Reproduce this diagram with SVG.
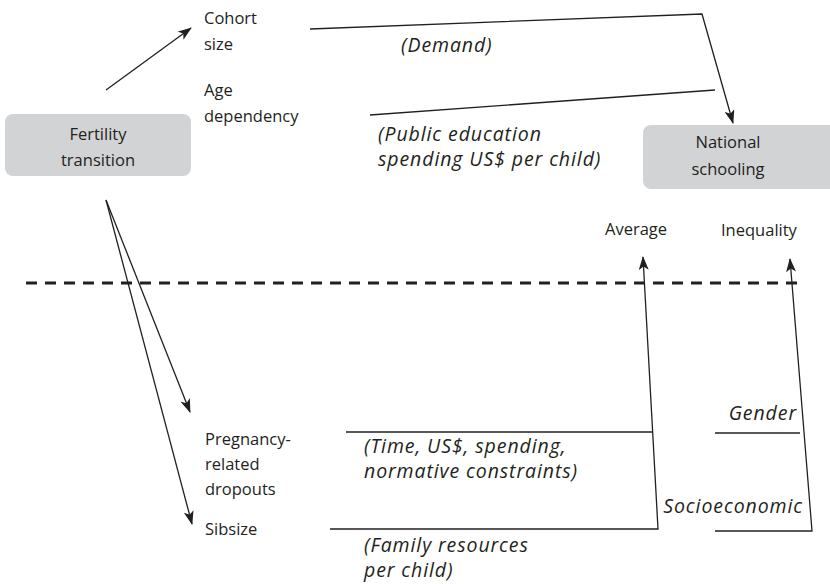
<svg xmlns="http://www.w3.org/2000/svg" width="830" height="584" viewBox="0 0 830 584">
<style>
.t{font-family:"Open Sans","Noto Sans","Liberation Sans",sans-serif;font-size:16.5px;fill:#231f20}
.i{font-family:"Open Sans","Noto Sans","Liberation Sans",sans-serif;font-size:19.5px;letter-spacing:0.9px;font-style:italic;fill:#231f20}
.box{fill:#d1d3d4}
.c{stroke:#231f20;stroke-width:1.3;fill:none}
.a{marker-end:url(#ah)}
</style>
<defs>
<marker id="ah" markerWidth="14" markerHeight="10" refX="13" refY="5" orient="auto" markerUnits="userSpaceOnUse">
<path d="M0,0 L14,5 L0,10 L3.5,5 z" fill="#231f20"/>
</marker>
</defs>
<rect width="830" height="584" fill="#fff"/>
<g id="fertility">
<rect class="box" x="5" y="114" width="186" height="62" rx="8"/>
<text class="t" x="98" y="140" text-anchor="middle">Fertility</text>
<text class="t" x="98" y="166" text-anchor="middle">transition</text>
</g>
<g id="cohort"><text class="t" x="204" y="24">Cohort</text><text class="t" x="204" y="50">size</text></g>
<g id="age"><text class="t" x="204" y="96">Age</text><text class="t" x="204" y="122">dependency</text></g>
<g id="national">
<rect class="box" x="643" y="125" width="200" height="64" rx="8"/>
<text class="t" x="728" y="148" text-anchor="middle">National</text>
<text class="t" x="728" y="175" text-anchor="middle">schooling</text>
</g>
<g id="average"><text class="t" x="605" y="235">Average</text></g>
<g id="inequality"><text class="t" x="721" y="236">Inequality</text></g>
<g id="pregnancy"><text class="t" x="205" y="445">Pregnancy-</text><text class="t" x="205" y="470">related</text><text class="t" x="205" y="495">dropouts</text></g>
<g id="sibsize"><text class="t" x="205" y="535">Sibsize</text></g>
<g id="labels">
<text class="i" x="401" y="52">(Demand)</text>
<text class="i" x="378" y="141">(Public education</text>
<text class="i" x="378" y="166">spending US$ per child)</text>
<text class="i" x="364" y="453">(Time, US$, spending,</text>
<text class="i" x="364" y="478">normative constraints)</text>
<text class="i" x="364" y="552">(Family resources</text>
<text class="i" x="364" y="577">per child)</text>
<text class="i" x="797" y="420" text-anchor="end">Gender</text>
<text class="i" x="803" y="513" text-anchor="end">Socioeconomic</text>
</g>
<g id="connectors">
<line x1="26" y1="283" x2="800" y2="283" stroke="#231f20" stroke-width="3" stroke-dasharray="11,8"/>
<line class="c a" x1="106" y1="90" x2="191" y2="28"/>
<polyline class="c a" points="310,29 702,14 733,123"/>
<line class="c" x1="370" y1="115" x2="715" y2="90"/>
<line class="c a" x1="106" y1="200" x2="190" y2="412"/>
<line class="c a" x1="106" y1="200" x2="192" y2="524"/>
<line class="c" x1="346" y1="432" x2="653" y2="432"/>
<polyline class="c a" points="330,529 658,529 643,257"/>
<line class="c" x1="715" y1="433" x2="800" y2="433"/>
<polyline class="c a" points="715,531 812,531 790,259"/>
</g>
</svg>
